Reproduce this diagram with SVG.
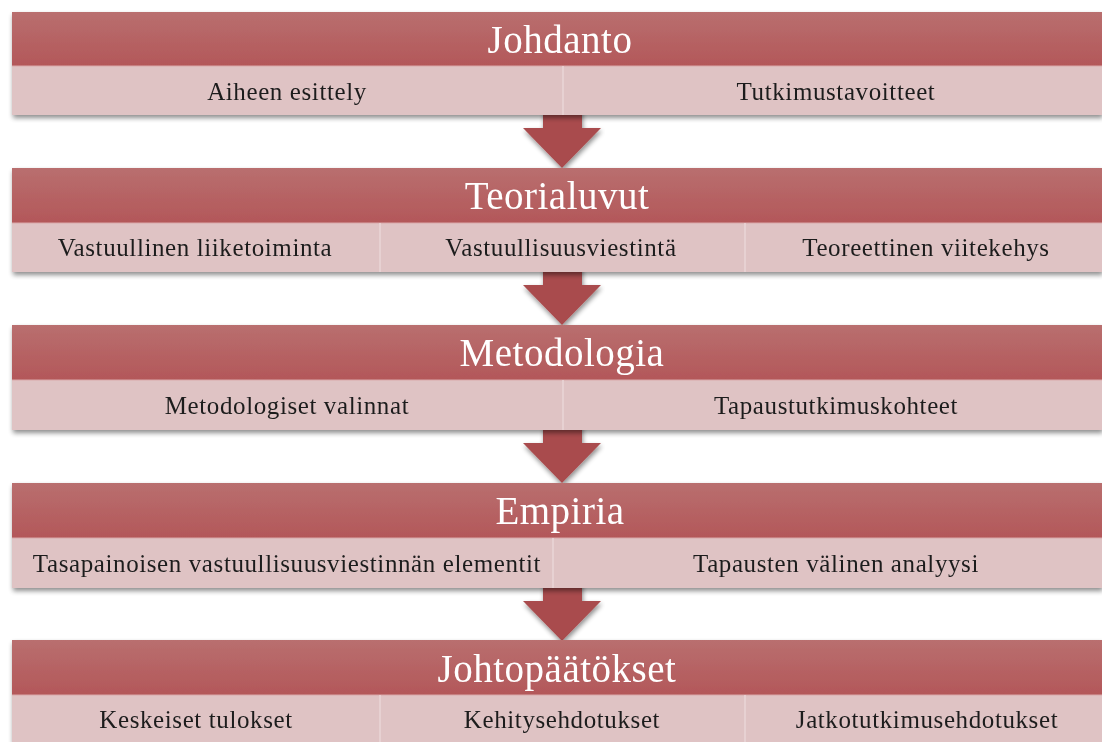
<svg xmlns="http://www.w3.org/2000/svg" width="1102" height="742" viewBox="0 0 1102 742">
  <defs>
    <linearGradient id="hdr" x1="0" y1="0" x2="0" y2="1">
      <stop offset="0" stop-color="#b96f6f"/>
      <stop offset="1" stop-color="#b35759"/>
    </linearGradient>
    <filter id="shadow" x="-5%" y="-10%" width="110%" height="130%">
      <feGaussianBlur in="SourceAlpha" stdDeviation="2.5"/>
      <feOffset dx="1" dy="3" result="b"/>
      <feComponentTransfer><feFuncA type="linear" slope="0.45"/></feComponentTransfer>
      <feMerge><feMergeNode/><feMergeNode in="SourceGraphic"/></feMerge>
    </filter>
    <g id="arrow">
      <rect x="543" y="-10" width="39" height="30" fill="#a94b4d"/>
      <polygon points="523,13 601,13 562,53" fill="#a94b4d"/>
    </g>
  </defs>
  <style>
    .hdr { fill: url(#hdr); }
    .sub { fill: #dfc3c4; }
    .div { stroke: #ead6d7; stroke-width: 1.5; }
    .sep { stroke: #d9a9aa; stroke-width: 1; }
    .title { font-family: "Liberation Serif", serif; font-size: 39px; letter-spacing: 0.5px; fill: #ffffff; text-anchor: middle; }
    .item { font-family: "Liberation Serif", serif; font-size: 25px; letter-spacing: 0.6px; fill: #1e1e1e; text-anchor: middle; }
  </style>

  <!-- connectors: downward block arrows between sections -->
  <g id="connectors" filter="url(#shadow)">
    <use href="#arrow" transform="translate(0,115)"/>
    <use href="#arrow" transform="translate(0,272)"/>
    <use href="#arrow" transform="translate(0,430)"/>
    <use href="#arrow" transform="translate(0,588)"/>
  </g>

  <g id="johdanto" filter="url(#shadow)">
    <rect class="hdr" x="12" y="12" width="1090" height="54"/>
    <rect class="sub" x="12" y="66" width="1090" height="49"/>
    <line class="sep" x1="12" y1="66" x2="1102" y2="66"/>
    <line class="div" x1="563" y1="66" x2="563" y2="115"/>
    <text class="title" x="560" y="53">Johdanto</text>
    <text class="item" x="287" y="100">Aiheen esittely</text>
    <text class="item" x="836" y="100">Tutkimustavoitteet</text>
  </g>

  <g id="teorialuvut" filter="url(#shadow)">
    <rect class="hdr" x="12" y="168" width="1090" height="55"/>
    <rect class="sub" x="12" y="223" width="1090" height="49"/>
    <line class="sep" x1="12" y1="223" x2="1102" y2="223"/>
    <line class="div" x1="380" y1="223" x2="380" y2="272"/>
    <line class="div" x1="745" y1="223" x2="745" y2="272"/>
    <text class="title" x="557" y="209">Teorialuvut</text>
    <text class="item" x="195" y="256">Vastuullinen liiketoiminta</text>
    <text class="item" x="561" y="256">Vastuullisuusviestintä</text>
    <text class="item" x="926" y="256">Teoreettinen viitekehys</text>
  </g>

  <g id="metodologia" filter="url(#shadow)">
    <rect class="hdr" x="12" y="325" width="1090" height="55"/>
    <rect class="sub" x="12" y="380" width="1090" height="50"/>
    <line class="sep" x1="12" y1="380" x2="1102" y2="380"/>
    <line class="div" x1="563" y1="380" x2="563" y2="430"/>
    <text class="title" x="562" y="366">Metodologia</text>
    <text class="item" x="287" y="414">Metodologiset valinnat</text>
    <text class="item" x="836" y="414">Tapaustutkimuskohteet</text>
  </g>

  <g id="empiria" filter="url(#shadow)">
    <rect class="hdr" x="12" y="483" width="1090" height="55"/>
    <rect class="sub" x="12" y="538" width="1090" height="50"/>
    <line class="sep" x1="12" y1="538" x2="1102" y2="538"/>
    <line class="div" x1="553" y1="538" x2="553" y2="588"/>
    <text class="title" x="560" y="524">Empiria</text>
    <text class="item" x="287" y="572">Tasapainoisen vastuullisuusviestinnän elementit</text>
    <text class="item" x="836" y="572">Tapausten välinen analyysi</text>
  </g>

  <g id="johtopaatokset" filter="url(#shadow)">
    <rect class="hdr" x="12" y="640" width="1090" height="55"/>
    <rect class="sub" x="12" y="695" width="1090" height="47"/>
    <line class="sep" x1="12" y1="695" x2="1102" y2="695"/>
    <line class="div" x1="380" y1="695" x2="380" y2="742"/>
    <line class="div" x1="745" y1="695" x2="745" y2="742"/>
    <text class="title" x="557" y="682">Johtopäätökset</text>
    <text class="item" x="196" y="728">Keskeiset tulokset</text>
    <text class="item" x="562" y="728">Kehitysehdotukset</text>
    <text class="item" x="927" y="728">Jatkotutkimusehdotukset</text>
  </g>
</svg>
